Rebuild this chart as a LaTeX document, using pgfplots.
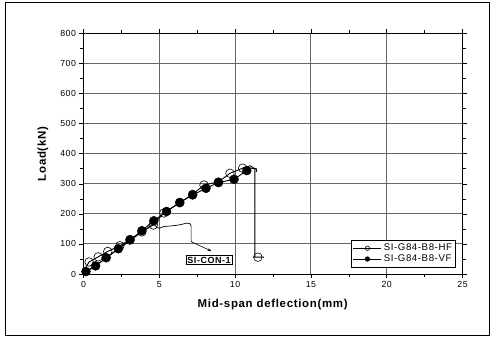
\documentclass[border=0pt]{standalone}
\usepackage{fontspec}
\setmainfont{Liberation Sans}
\newfontfamily\spaced[LetterSpace=6]{Liberation Sans}
\usepackage{pgfplots}
\pgfplotsset{compat=1.18}
\usetikzlibrary{arrows.meta}
\begin{document}
\begin{tikzpicture}
\begin{axis}[
  name=ax,
  scale only axis,
  width=379bp, height=240.5bp,
  xmin=0, xmax=25, ymin=0, ymax=800,
  xtick={0,5,10,15,20,25}, ytick={0,100,...,800},
  minor x tick num=1, minor y tick num=1,
  tick align=outside,
  major tick length=4bp, minor tick length=3bp,
  xmajorgrids, ymajorgrids,
  major grid style={gray!80!black, line width=0.9pt},
  axis line style={line width=0.9pt},
  tick style={black, line width=0.6pt},
  /pgf/number format/assume math mode=true,
  tick label style={font=\spaced\fontsize{8.8}{10}\selectfont},
  xlabel={\textbf{Mid-span deflection(mm)}},
  ylabel={\textbf{Load(kN)}},
  label style={font=\spaced\fontsize{11.5}{13}\selectfont},
  xlabel style={at={(axis description cs:0.5,-0.129)}, anchor=center},
  ylabel style={at={(axis description cs:-0.107,0.5)}, anchor=center},
  legend style={at={(0.983,0.141)}, anchor=north east, draw=black, line width=0.6pt,
    font=\spaced\fontsize{9.7}{10.5}\selectfont, row sep=-1.5bp, inner sep=1.8bp},
  legend cell align=left,
  legend image code/.code={\draw[#1, mark=none] (0bp,0bp) -- (28bp,0bp);
    \draw[#1] plot coordinates {(14bp,0bp)};},
]
\addlegendimage{black, line width=0.8pt, mark=o, mark size=2.2bp, mark options={fill=white, line width=0.6pt}}
\addlegendentry{SI-G84-B8-HF}
\addlegendimage{black, line width=0.8pt, mark=*, mark size=2.2bp}
\addlegendentry{SI-G84-B8-VF}
% HF line
\addplot[black, line width=0.9pt, forget plot] coordinates {
(0,10) (0.37,40) (0.97,57) (1.6,75) (2.4,94) (3.07,115) (3.85,140) (4.6,163)
(5.3,203) (6.35,237) (7.2,265) (7.95,296) (8.9,306) (9.66,335) (10.5,352)
(11.0,360) (11.3,350) (11.3,56) (11.2,56) (11.5,56) (11.9,56)
};
\addplot[only marks, mark=o, mark size=4.3bp, mark options={fill=white, line width=0.6pt}, forget plot] coordinates {
(0.37,40) (0.97,57) (1.6,75) (2.4,94) (3.07,115) (3.85,140) (4.6,163)
(5.3,203) (6.35,237) (7.2,265) (7.95,296) (8.9,306) (9.66,335) (10.5,352) (11.5,56)
};
% VF line
\addplot[black, line width=0.9pt, forget plot] coordinates {
(0,0) (0.16,8) (0.8,27) (1.5,54) (2.3,84) (3.07,113) (3.85,144) (4.64,177)
(5.48,208) (6.35,238) (7.2,263) (8.08,285) (8.9,304) (9.93,315) (10.77,344)
(11.0,352) (11.4,350) (11.4,340)
};
\addplot[only marks, mark=*, mark size=4.5bp, black, forget plot] coordinates {
(0.16,8) (0.8,27) (1.5,54) (2.3,84) (3.07,113) (3.85,144) (4.64,177)
(5.48,208) (6.35,238) (7.2,263) (8.08,285) (8.9,304) (9.93,315) (10.77,344)
};
% SI-CON-1
\addplot[black, line width=0.7pt, forget plot] coordinates {
(0,0) (1,35) (2,72) (3,108) (4,145) (4.6,167) (4.85,155) (5.0,152) (5.3,158)
(5.8,160) (6.3,163) (6.8,169) (7.0,168) (7.1,160) (7.1,110) (7.2,105)
};
\draw[black, line width=0.6pt, -{Stealth[length=4bp,width=3bp]}] (axis cs:7.2,105) -- (axis cs:8.45,76);
\node[draw=black, line width=0.8pt, fill=white, inner sep=1.5bp, font=\spaced\bfseries\fontsize{9}{10}\selectfont] at (axis cs:8.28,46.5) {SI-CON-1};
\end{axis}
\draw[line width=0.8pt] ([shift={(-78.5bp,-61bp)}]ax.south west) rectangle ([shift={(26.5bp,31.5bp)}]ax.north east);
\useasboundingbox ([shift={(-83.5bp,-63bp)}]ax.south west) rectangle ([shift={(31.5bp,33.5bp)}]ax.north east);
\end{tikzpicture}
\end{document}
